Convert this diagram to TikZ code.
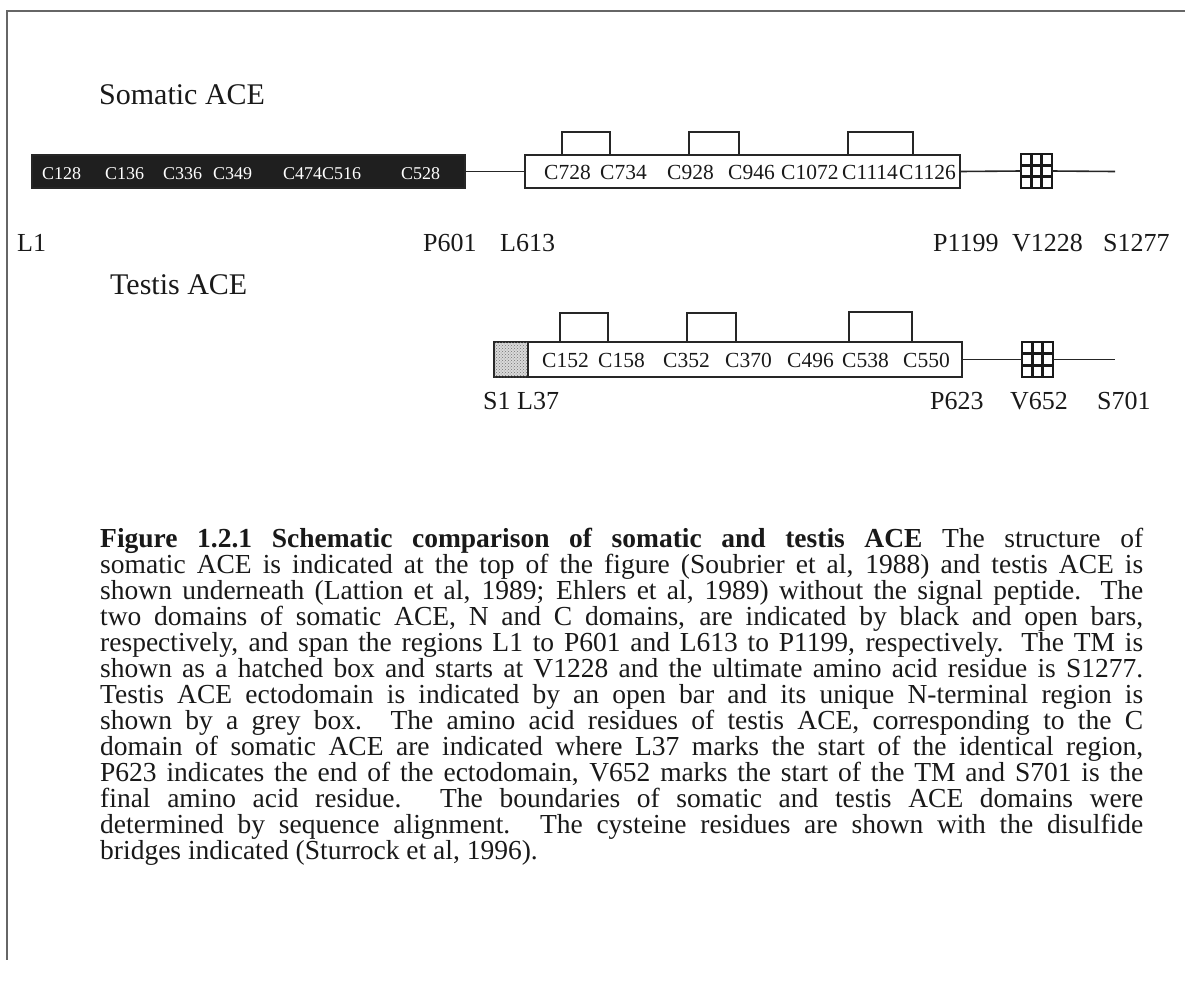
\documentclass[tikz,border=0pt]{standalone}
\usepackage{fontspec}
\setmainfont{Liberation Serif}
\usetikzlibrary{calc,patterns}
\tikzset{
  ln/.style={draw=black!85, line width=1.6pt},
  frameln/.style={draw=black!60, line width=2pt},
  dom/.style={draw=black!85, line width=1.6pt, fill=white, minimum height=33pt, inner sep=0pt, outer sep=0pt, anchor=north west},
  tmbox/.style={draw=black!90, line width=2pt, fill=white, minimum width=31pt, minimum height=34pt, inner sep=0pt, outer sep=0pt, anchor=north west,
    path picture={
      \foreach \f in {1,2}{
        \draw[black!90, line width=2.6pt] ($(path picture bounding box.south west)!\f/3!(path picture bounding box.south east)$) -- ($(path picture bounding box.north west)!\f/3!(path picture bounding box.north east)$);
        \draw[black!90, line width=2.6pt] ($(path picture bounding box.south west)!\f/3!(path picture bounding box.north west)$) -- ($(path picture bounding box.south east)!\f/3!(path picture bounding box.north east)$);
      }}},
  greybox/.style={dom, fill=black!15, postaction={pattern=crosshatch dots, pattern color=black!55}},
  lab/.style={font=\fontsize{26}{30}\selectfont, anchor=base west, inner sep=0pt, text=black!90},
  cys/.style={font=\fontsize{21.5}{24}\selectfont, anchor=base west, inner sep=0pt, text=black!90},
  ncys/.style={font=\fontsize{18}{20}\selectfont, anchor=base west, inner sep=0pt, text=white},
  ttl/.style={font=\fontsize{30}{34}\selectfont, anchor=base west, inner sep=0pt, text=black!90},
}
\begin{document}
\begin{tikzpicture}[x=1pt, y=-1pt]
\useasboundingbox (0,0) rectangle (1185,986);
% frame
\coordinate (fTL) at (7,11);
\coordinate (fTR) at (1185,11);
\coordinate (fBL) at (7,960);
\draw[frameln] (fTR) -- (fTL) -- (fBL);

% ---------------- Somatic ACE ----------------
\node[ttl] (somT) at (99,104) {Somatic ACE};

\node[dom, fill=black!88, minimum width=433pt] (somN) at (32,155) {};
\node[dom, minimum width=435pt] (somC) at (525,155) {};
\node[tmbox] (somTM) at (1021,154) {};
\coordinate (somEnd) at (1115,171.5);
\draw[ln] (somN.east) -- (somC.west);
\draw[ln] (somC.east) -- (somTM.west);
\draw[ln] (somTM.east) -- (somEnd);

% N-domain cysteines
\node[ncys] (n128) at (42,179) {C128};
\node[ncys] (n136) at (105,179) {C136};
\node[ncys] (n336) at (163,179) {C336};
\node[ncys] (n349) at (213,179) {C349};
\node[ncys] (n474) at (283,179) {C474C516};
\node[ncys] (n528) at (401,179) {C528};

% C-domain cysteines
\node[cys] (c728) at (544,179) {C728};
\node[cys] (c734) at (600,179) {C734};
\node[cys] (c928) at (667,179) {C928};
\node[cys] (c946) at (728,179) {C946};
\node[cys] (c1072) at (781,179) {C1072};
\node[cys] (c1114) at (842,179) {C1114};
\node[cys] (c1126) at (899,179) {C1126};

% disulfide bridges
\draw[ln] (562,155) -- (562,132) -- (610,132) -- (610,155);
\draw[ln] (689,155) -- (689,132) -- (739,132) -- (739,155);
\draw[ln] (848,155) -- (848,132) -- (913,132) -- (913,155);

% residue labels
\node[lab] (L1) at (17,251) {L1};
\node[lab] (P601) at (423,251) {P601};
\node[lab] (L613) at (500,251) {L613};
\node[lab] (P1199) at (933,251) {P1199};
\node[lab] (V1228) at (1012,251) {V1228};
\node[lab] (S1277) at (1103,251) {S1277};

% ---------------- Testis ACE ----------------
\node[ttl] (tesT) at (110,294) {Testis ACE};

\node[greybox, minimum width=34pt, minimum height=35pt] (tesG) at (494,342) {};
\node[dom, minimum width=434pt, minimum height=35pt] (tesC) at (528,342) {};
\node[tmbox, minimum height=35pt] (tesTM) at (1022,342) {};
\coordinate (tesEnd) at (1115,359.5);
\draw[ln] (tesC.east) -- (tesTM.west);
\draw[ln] (tesTM.east) -- (tesEnd);

\node[cys] (t152) at (542,367) {C152};
\node[cys] (t158) at (598,367) {C158};
\node[cys] (t352) at (663,367) {C352};
\node[cys] (t370) at (725,367) {C370};
\node[cys] (t496) at (787,367) {C496};
\node[cys] (t538) at (842,367) {C538};
\node[cys] (t550) at (903,367) {C550};

\draw[ln] (560,342) -- (560,313) -- (608,313) -- (608,342);
\draw[ln] (687,342) -- (687,313) -- (736,313) -- (736,342);
\draw[ln] (849,342) -- (849,312) -- (912,312) -- (912,342);

\node[lab] (S1) at (483,409) {S1 L37};
\node[lab] (P623) at (930,409) {P623};
\node[lab] (V652) at (1010,409) {V652};
\node[lab] (S701) at (1097,409) {S701};

% ---------------- Caption ----------------
\node[anchor=north west, inner sep=0pt, text width=1043pt, align=justify,
      font=\fontsize{27.5}{26}\selectfont, text=black!90] (cap) at (100,528) {%
\textbf{Figure 1.2.1 Schematic comparison of somatic and testis ACE} The structure of\linebreak
somatic ACE is indicated at the top of the figure (Soubrier et al, 1988) and testis ACE is\linebreak
shown underneath (Lattion et al, 1989; Ehlers et al, 1989) without the signal peptide. The\linebreak
two domains of somatic ACE, N and C domains, are indicated by black and open bars,\linebreak
respectively, and span the regions L1 to P601 and L613 to P1199, respectively. The TM is\linebreak
shown as a hatched box and starts at V1228 and the ultimate amino acid residue is S1277.\linebreak
Testis ACE ectodomain is indicated by an open bar and its unique N-terminal region is\linebreak
shown by a grey box. The amino acid residues of testis ACE, corresponding to the C\linebreak
domain of somatic ACE are indicated where L37 marks the start of the identical region,\linebreak
P623 indicates the end of the ectodomain, V652 marks the start of the TM and S701 is the\linebreak
final amino acid residue. The boundaries of somatic and testis ACE domains were\linebreak
determined by sequence alignment. The cysteine residues are shown with the disulfide\linebreak
bridges indicated (Sturrock et al, 1996).};
\end{tikzpicture}
\end{document}
